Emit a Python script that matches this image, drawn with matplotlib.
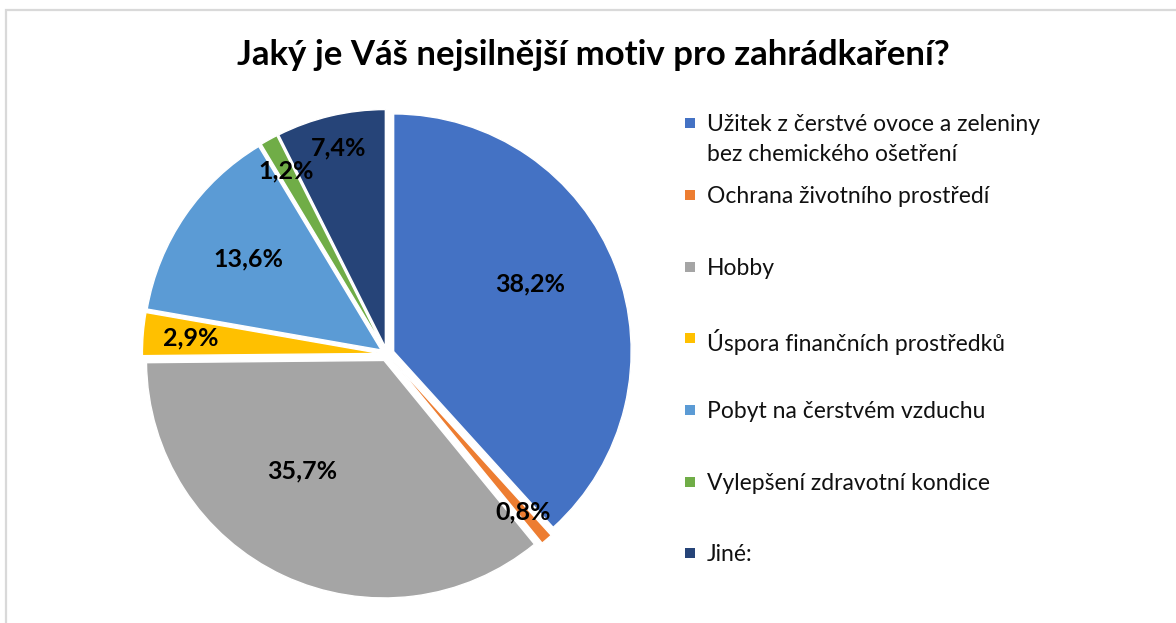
import numpy as np
import matplotlib
matplotlib.use("Agg")
import matplotlib.pyplot as plt
from matplotlib.patches import Rectangle

plt.rcParams['font.family'] = ['Lato', 'DejaVu Sans']

# --- data ---
title = "Jaký je Váš nejsilnější motiv pro zahrádkaření?"
categories = [
    "Užitek z čerstvé ovoce a zeleniny\nbez chemického ošetření",
    "Ochrana životního prostředí",
    "Hobby",
    "Úspora finančních prostředků",
    "Pobyt na čerstvém vzduchu",
    "Vylepšení zdravotní kondice",
    "Jiné:",
]
shares = [38.2, 0.8, 35.7, 2.9, 13.6, 1.2, 7.4]
colors = ["#4472C4", "#ED7D31", "#A5A5A5", "#FFC000", "#5B9BD5", "#70AD47", "#264478"]

# label placement (radial fraction, angle nudge in degrees)
label_r = [0.67, 0.88, 0.61, 0.83, 0.71, 0.88, 0.89]
label_nudge = [5, 0, -11, 0, 0, 0, 0]

W, H = 1176, 623
fig = plt.figure(figsize=(W / 100, H / 100), dpi=100)

# chart frame
fig.patches.append(Rectangle((6 / W, -0.1), 2, 613 / H + 0.1, transform=fig.transFigure,
                             fill=False, edgecolor="#D9D9D9", lw=1.6))

# pie axes: center (387, 354) px, radius 237.5 px
r_px = 237.5
side = 2.2 * r_px
ax = fig.add_axes([(387 - side / 2) / W, (H - 354 - side / 2) / H, side / W, side / H])

wedges, _ = ax.pie(shares, colors=colors, startangle=90, counterclock=False,
                   explode=[0.03] * len(shares), radius=1.0,
                   wedgeprops=dict(edgecolor="white", linewidth=1.0))
ax.set_xlim(-1.1, 1.1)
ax.set_ylim(-1.1, 1.1)
ax.set_aspect("equal")
ax.axis("off")

for w, val, rf, dn in zip(wedges, shares, label_r, label_nudge):
    mid = np.deg2rad((w.theta1 + w.theta2) / 2 + dn)
    ax.text(rf * np.cos(mid), rf * np.sin(mid), f"{val:.1f}%".replace(".", ","),
            ha="center", va="center", fontsize=18, fontweight="bold", color="black")

# title
fig.text(593 / W, 1 - 55 / H, title, ha="center", va="center",
         fontsize=25, fontweight="bold", color="black")

# legend (Excel-style fixed slots)
legend_y = [123, 195, 267, 338, 410, 482, 553]
for cat, col, y in zip(categories, colors, legend_y):
    fig.patches.append(Rectangle((685 / W, 1 - (y + 5) / H), 10 / W, 10 / H,
                                 transform=fig.transFigure, facecolor=col, edgecolor="none"))
    fig.text(707 / W, 1 - (y - 9) / H, cat, ha="left", va="top",
             fontsize=16.5, color="#111111", linespacing=1.55)

fig.savefig("out.png", dpi=100, facecolor="white")
